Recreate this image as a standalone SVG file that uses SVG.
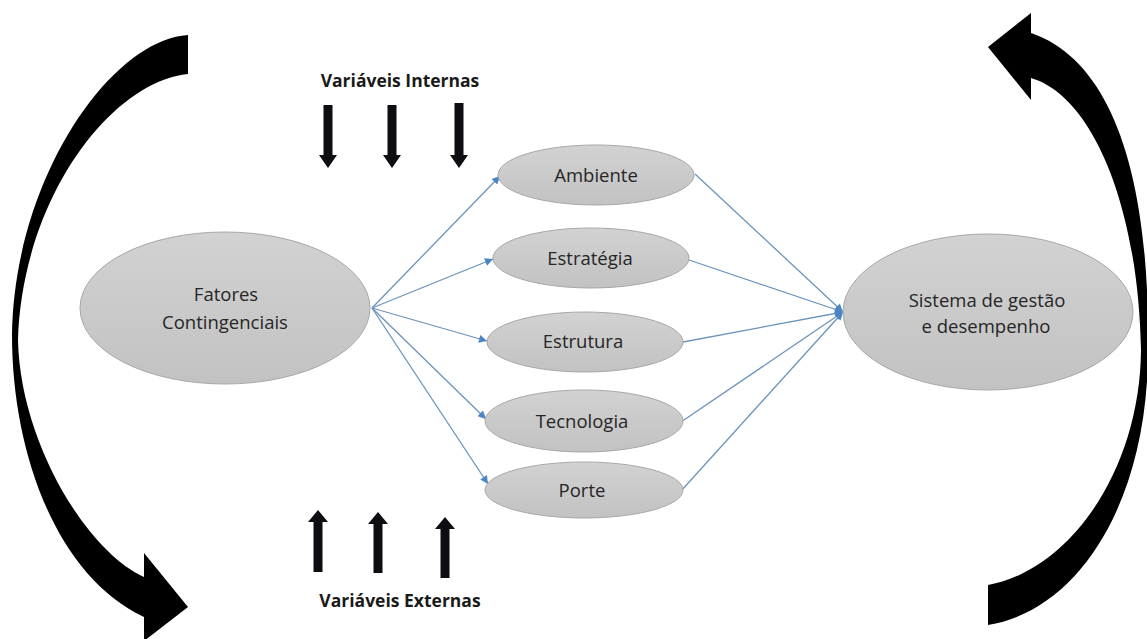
<svg xmlns="http://www.w3.org/2000/svg" width="1147" height="639" viewBox="0 0 1147 639">
<defs>
<style>
.node ellipse{fill:url(#g);stroke:#a8a8a8;stroke-width:1}
.lbl{font-family:"Open Sans","Liberation Sans",sans-serif;font-size:18.5px;fill:#262626;text-anchor:middle}
.ttl{font-family:"Open Sans","Liberation Sans",sans-serif;font-size:17.5px;font-weight:bold;fill:#1a1a1a;text-anchor:middle}
.conn line{stroke:#6b93bd;stroke-width:1.3;fill:none;marker-end:url(#ah)}
.blk{fill:#000}
.var{fill:#0d0d12}
</style>
<linearGradient id="g" x1="0" y1="0" x2="0" y2="1">
<stop offset="0" stop-color="#d2d2d2"/>
<stop offset="1" stop-color="#c2c2c2"/>
</linearGradient>
<marker id="ah" viewBox="0 0 10 10" refX="10" refY="5" markerWidth="10" markerHeight="8" markerUnits="userSpaceOnUse" orient="auto">
<path d="M0,0 L10,5 L0,10 z" fill="#4a86c6"/>
</marker>
</defs>
<rect width="1147" height="639" fill="#fff"/>

<g id="cycle-left">
<path class="blk" d="M188,35 C110,40 14,180 12,335 C12,450 55,575 144,617 L144,641 L188,607 L144,553 L144,577 C85,550 20,440 18,340 C22,200 110,82 188,74 Z"/>
</g>
<g id="cycle-right">
<path class="blk" d="M1031,33 C1110,60 1150,170 1148,350 C1148,500 1080,610 988,625 L988,585 C1070,570 1140,470 1141,350 C1138,200 1090,95 1031,78 L1031,100 L988,47 L1031,13 Z"/>
</g>

<g id="variaveis-internas">
<text class="ttl" x="400" y="87">Variáveis Internas</text>
<polygon class="var" points="323.5,105 332.5,105 332.5,155 337,155 328,168 319,155 323.5,155"/>
<polygon class="var" points="387.5,105 396.5,105 396.5,155 401,155 392,168 383,155 387.5,155"/>
<polygon class="var" points="454.5,103 463.5,103 463.5,155 468,155 459,168 450,155 454.5,155"/>
</g>
<g id="variaveis-externas">
<polygon class="var" points="313.5,572 322.5,572 322.5,522 328,522 318,510 308,522 313.5,522"/>
<polygon class="var" points="373.5,573 382.5,573 382.5,524 388,524 378,512 368,524 373.5,524"/>
<polygon class="var" points="440.5,578 449.5,578 449.5,529 455,529 445,517 435,529 440.5,529"/>
<text class="ttl" x="400" y="607">Variáveis Externas</text>
</g>

<g id="connectors" class="conn">
<line x1="372" y1="308" x2="500" y2="176"/>
<line x1="372" y1="308" x2="493" y2="259"/>
<line x1="372" y1="308" x2="487" y2="341"/>
<line x1="372" y1="308" x2="486" y2="419"/>
<line x1="372" y1="308" x2="488" y2="484"/>
<line x1="695" y1="174" x2="843" y2="312"/>
<line x1="689" y1="260" x2="843" y2="312"/>
<line x1="683" y1="342" x2="843" y2="312"/>
<line x1="681" y1="422" x2="843" y2="312"/>
<line x1="681" y1="491" x2="843" y2="312"/>
</g>

<g id="fatores" class="node">
<ellipse cx="225" cy="308" rx="145" ry="76"/>
<text class="lbl" x="226" y="301">Fatores</text>
<text class="lbl" x="225" y="329">Contingenciais</text>
</g>
<g id="ambiente" class="node">
<ellipse cx="596" cy="175" rx="98" ry="30"/>
<text class="lbl" x="596" y="182">Ambiente</text>
</g>
<g id="estrategia" class="node">
<ellipse cx="591" cy="258" rx="98" ry="30"/>
<text class="lbl" x="590" y="265">Estratégia</text>
</g>
<g id="estrutura" class="node">
<ellipse cx="585" cy="342" rx="98" ry="30"/>
<text class="lbl" x="583" y="348">Estrutura</text>
</g>
<g id="tecnologia" class="node">
<ellipse cx="584" cy="421" rx="99" ry="31"/>
<text class="lbl" x="582" y="428">Tecnologia</text>
</g>
<g id="porte" class="node">
<ellipse cx="584" cy="490" rx="99" ry="28"/>
<text class="lbl" x="582" y="497">Porte</text>
</g>
<g id="sistema" class="node">
<ellipse cx="988" cy="312" rx="145" ry="78"/>
<text class="lbl" x="987" y="307">Sistema de gestão</text>
<text class="lbl" x="986" y="333">e desempenho</text>
</g>
</svg>
